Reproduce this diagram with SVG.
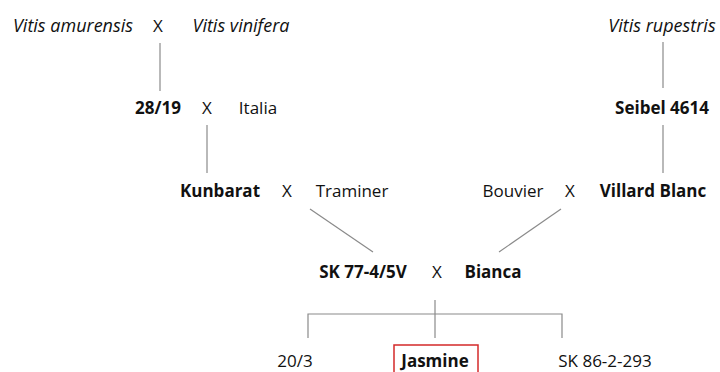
<svg xmlns="http://www.w3.org/2000/svg" width="720" height="372" viewBox="0 0 720 372">
<style>
text{font-family:"Open Sans","Noto Sans","Liberation Sans",sans-serif;font-size:17px;fill:#111;text-anchor:middle}
.i{font-style:italic;font-size:18px}
.b{font-weight:bold}
.ln{stroke:#8a8a8a;stroke-width:1.2;fill:none}
</style>
<rect width="720" height="372" fill="#fff"/>
<g id="connectors" class="ln">
<line x1="160" y1="43" x2="160" y2="91"/>
<line x1="207" y1="125" x2="207" y2="173"/>
<line x1="663" y1="42" x2="663" y2="88"/>
<line x1="663" y1="125" x2="663" y2="173"/>
<line x1="310" y1="209" x2="373" y2="252"/>
<line x1="561" y1="209" x2="499" y2="252"/>
<line x1="435" y1="300" x2="435" y2="338"/>
<polyline points="308,338 308,314 562,314 562,338"/>
</g>
<g id="cross1"><text x="73" y="32" class="i">Vitis amurensis</text><text x="158" y="32">X</text><text x="241" y="32" class="i">Vitis vinifera</text></g>
<g id="rupestris"><text x="662" y="32" class="i">Vitis rupestris</text></g>
<g id="cross2"><text x="158" y="114" class="b">28/19</text><text x="207" y="114">X</text><text x="258" y="114">Italia</text></g>
<g id="seibel"><text x="662" y="114" class="b">Seibel 4614</text></g>
<g id="cross3"><text x="220" y="197" class="b">Kunbarat</text><text x="287" y="197">X</text><text x="352" y="197">Traminer</text></g>
<g id="cross4"><text x="513" y="197">Bouvier</text><text x="570" y="197">X</text><text x="653" y="197" class="b">Villard Blanc</text></g>
<g id="cross5"><text x="363" y="278" class="b">SK 77-4/5V</text><text x="437" y="278">X</text><text x="493" y="278" class="b">Bianca</text></g>
<g id="n203"><text x="295" y="367">20/3</text></g>
<g id="jasmine"><rect x="394" y="345" width="84" height="40" fill="none" stroke="#d42a2a" stroke-width="1.5"/><text x="435" y="367" class="b">Jasmine</text></g>
<g id="sk86"><text x="605" y="367">SK 86-2-293</text></g>
</svg>
